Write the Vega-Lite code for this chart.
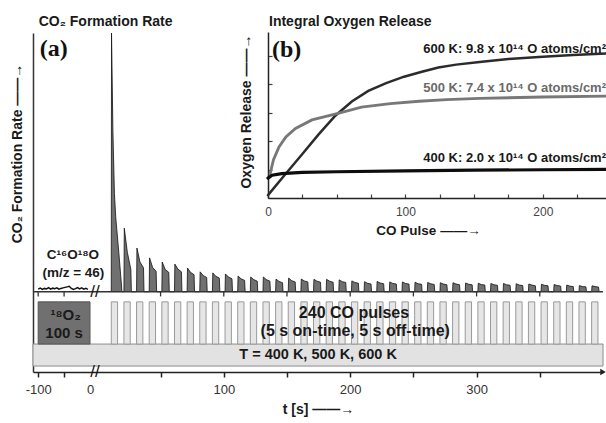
{
  "$schema": "https://vega.github.io/schema/vega-lite/v6.json",
  "width": 570,
  "height": 339,
  "autosize": {"type": "none"},
  "padding": {"left": 33, "top": 33, "right": 3, "bottom": 51},
  "background": "white",
  "config": {
    "font": "Liberation Sans",
    "view": {"stroke": null},
    "text": {"font": "Liberation Sans", "fontWeight": "bold", "color": "#1a1a1a"}
  },
  "datasets": {
    "co2": [
      {"t":11,"r":0},{"t":11.2,"r":100},{"t":12.3,"r":62},{"t":13.5,"r":38},{"t":14.5,"r":29},{"t":17,"r":15},{"t":19,"r":3},{"t":19.4,"r":0},
      {"t":21,"r":0},{"t":21.3,"r":24.6},{"t":23.7,"r":15.3},{"t":26.5,"r":8.6},{"t":26.9,"r":0},
      {"t":31,"r":0},{"t":31.3,"r":16.9},{"t":33.7,"r":11.5},{"t":36.5,"r":9.3},{"t":36.9,"r":0},
      {"t":41,"r":0},{"t":41.3,"r":13.1},{"t":43.7,"r":9.4},{"t":46.5,"r":7.9},{"t":46.9,"r":0},
      {"t":51,"r":0},{"t":51.3,"r":11.5},{"t":53.7,"r":8.6},{"t":56.5,"r":7.5},{"t":56.9,"r":0},
      {"t":61,"r":0},{"t":61.3,"r":10.7},{"t":63.7,"r":8.8},{"t":66.5,"r":7.7},{"t":66.9,"r":0},
      {"t":71,"r":0},{"t":71.3,"r":9.2},{"t":73.7,"r":7.5},{"t":76.5,"r":6.6},{"t":76.9,"r":0},
      {"t":81,"r":0},{"t":81.3,"r":7.7},{"t":83.7,"r":6.3},{"t":86.5,"r":5.5},{"t":86.9,"r":0},
      {"t":91,"r":0},{"t":91.3,"r":7.3},{"t":93.7,"r":6.0},{"t":96.5,"r":5.3},{"t":96.9,"r":0},
      {"t":101,"r":0},{"t":101.3,"r":6.9},{"t":103.7,"r":5.7},{"t":106.5,"r":5.0},{"t":106.9,"r":0},
      {"t":111,"r":0},{"t":111.3,"r":6.1},{"t":113.7,"r":5.0},{"t":116.5,"r":4.4},{"t":116.9,"r":0},
      {"t":121,"r":0},{"t":121.3,"r":5.7},{"t":123.7,"r":4.7},{"t":126.5,"r":4.1},{"t":126.9,"r":0},
      {"t":131,"r":0},{"t":131.3,"r":5.7},{"t":133.7,"r":4.7},{"t":136.5,"r":4.1},{"t":136.9,"r":0},
      {"t":141,"r":0},{"t":141.3,"r":4.9},{"t":143.7,"r":4.0},{"t":146.5,"r":3.5},{"t":146.9,"r":0},
      {"t":151,"r":0},{"t":151.3,"r":5.3},{"t":153.7,"r":4.3},{"t":156.5,"r":3.8},{"t":156.9,"r":0},
      {"t":161,"r":0},{"t":161.3,"r":4.9},{"t":163.7,"r":4.2},{"t":166.5,"r":3.8},{"t":166.9,"r":0},
      {"t":171,"r":0},{"t":171.3,"r":4.8},{"t":173.7,"r":4.1},{"t":176.5,"r":3.7},{"t":176.9,"r":0},
      {"t":181,"r":0},{"t":181.3,"r":4.8},{"t":183.7,"r":4.1},{"t":186.5,"r":3.7},{"t":186.9,"r":0},
      {"t":191,"r":0},{"t":191.3,"r":4.6},{"t":193.7,"r":3.9},{"t":196.5,"r":3.6},{"t":196.9,"r":0},
      {"t":201,"r":0},{"t":201.3,"r":4.2},{"t":203.7,"r":3.6},{"t":206.5,"r":3.3},{"t":206.9,"r":0},
      {"t":211,"r":0},{"t":211.3,"r":3.9},{"t":213.7,"r":3.3},{"t":216.5,"r":3.0},{"t":216.9,"r":0},
      {"t":221,"r":0},{"t":221.3,"r":4.0},{"t":223.7,"r":3.4},{"t":226.5,"r":3.1},{"t":226.9,"r":0},
      {"t":231,"r":0},{"t":231.3,"r":3.8},{"t":233.7,"r":3.2},{"t":236.5,"r":3.0},{"t":236.9,"r":0},
      {"t":241,"r":0},{"t":241.3,"r":3.8},{"t":243.7,"r":3.2},{"t":246.5,"r":3.0},{"t":246.9,"r":0},
      {"t":251,"r":0},{"t":251.3,"r":3.7},{"t":253.7,"r":3.1},{"t":256.5,"r":2.9},{"t":256.9,"r":0},
      {"t":261,"r":0},{"t":261.3,"r":3.6},{"t":263.7,"r":3.1},{"t":266.5,"r":2.8},{"t":266.9,"r":0},
      {"t":271,"r":0},{"t":271.3,"r":3.5},{"t":273.7,"r":3.0},{"t":276.5,"r":2.7},{"t":276.9,"r":0},
      {"t":281,"r":0},{"t":281.3,"r":3.5},{"t":283.7,"r":3.0},{"t":286.5,"r":2.7},{"t":286.9,"r":0},
      {"t":291,"r":0},{"t":291.3,"r":3.4},{"t":293.7,"r":2.9},{"t":296.5,"r":2.7},{"t":296.9,"r":0},
      {"t":301,"r":0},{"t":301.3,"r":3.3},{"t":303.7,"r":2.8},{"t":306.5,"r":2.6},{"t":306.9,"r":0},
      {"t":311,"r":0},{"t":311.3,"r":3.2},{"t":313.7,"r":2.7},{"t":316.5,"r":2.5},{"t":316.9,"r":0},
      {"t":321,"r":0},{"t":321.3,"r":3.2},{"t":323.7,"r":2.7},{"t":326.5,"r":2.5},{"t":326.9,"r":0},
      {"t":331,"r":0},{"t":331.3,"r":3.1},{"t":333.7,"r":2.6},{"t":336.5,"r":2.4},{"t":336.9,"r":0},
      {"t":341,"r":0},{"t":341.3,"r":3.0},{"t":343.7,"r":2.6},{"t":346.5,"r":2.3},{"t":346.9,"r":0},
      {"t":351,"r":0},{"t":351.3,"r":2.9},{"t":353.7,"r":2.5},{"t":356.5,"r":2.3},{"t":356.9,"r":0},
      {"t":361,"r":0},{"t":361.3,"r":2.8},{"t":363.7,"r":2.4},{"t":366.5,"r":2.2},{"t":366.9,"r":0},
      {"t":371,"r":0},{"t":371.3,"r":2.6},{"t":373.7,"r":2.2},{"t":376.5,"r":2.0},{"t":376.9,"r":0},
      {"t":381,"r":0},{"t":381.3,"r":2.4},{"t":383.7,"r":2.0},{"t":386.5,"r":1.9},{"t":386.9,"r":0},
      {"t":391,"r":0},{"t":391.3,"r":2.3},{"t":393.7,"r":2.0},{"t":396.5,"r":1.8},{"t":396.9,"r":0}
    ],
    "trace": [
      {"t":-100,"r":1.0},{"t":-96,"r":1.4},{"t":-92,"r":0.9},{"t":-88,"r":1.3},{"t":-84,"r":1.1},
      {"t":-80,"r":1.6},{"t":-76,"r":1.0},{"t":-72,"r":1.4},{"t":-68,"r":1.2},{"t":-64,"r":1.5},
      {"t":-60,"r":1.0},{"t":-56,"r":1.3},{"t":-52,"r":1.5},{"t":-44,"r":1.9},{"t":-40,"r":2.1},
      {"t":-36,"r":1.3},{"t":-32,"r":0.9},{"t":-28,"r":1.2},{"t":-24,"r":1.6},{"t":-20,"r":1.1},
      {"t":-16,"r":1.5},{"t":-12,"r":1.0},{"t":-8,"r":1.3},{"t":-4,"r":0.9}
    ],
    "pulses": [
      {"on":11,"off":16},{"on":21,"off":26},{"on":31,"off":36},{"on":41,"off":46},{"on":51,"off":56},
      {"on":61,"off":66},{"on":71,"off":76},{"on":81,"off":86},{"on":91,"off":96},{"on":101,"off":106},
      {"on":111,"off":116},{"on":121,"off":126},{"on":131,"off":136},{"on":141,"off":146},{"on":151,"off":156},
      {"on":161,"off":166},{"on":171,"off":176},{"on":181,"off":186},{"on":191,"off":196},{"on":201,"off":206},
      {"on":211,"off":216},{"on":221,"off":226},{"on":231,"off":236},{"on":241,"off":246},{"on":251,"off":256},
      {"on":261,"off":266},{"on":271,"off":276},{"on":281,"off":286},{"on":291,"off":296},{"on":301,"off":306},
      {"on":311,"off":316},{"on":321,"off":326},{"on":331,"off":336},{"on":341,"off":346},{"on":351,"off":356},
      {"on":361,"off":366},{"on":371,"off":376},{"on":381,"off":386},{"on":391,"off":396}
    ],
    "ticks": [
      {"t":-100},{"t":-50},{"t":50},{"t":100},{"t":150},{"t":200},{"t":250},{"t":300},{"t":350}
    ],
    "oxy": [
      {"T":"600 K","p":0,"v":0.2},{"T":"600 K","p":12,"v":1.6},{"T":"600 K","p":25,"v":3.1},{"T":"600 K","p":37,"v":4.5},
      {"T":"600 K","p":49,"v":5.8},{"T":"600 K","p":61,"v":6.8},{"T":"600 K","p":73,"v":7.55},{"T":"600 K","p":86,"v":8.1},
      {"T":"600 K","p":99,"v":8.55},{"T":"600 K","p":112,"v":8.9},{"T":"600 K","p":124,"v":9.2},{"T":"600 K","p":137,"v":9.4},
      {"T":"600 K","p":154,"v":9.58},{"T":"600 K","p":175,"v":9.8},{"T":"600 K","p":200,"v":9.96},{"T":"600 K","p":222,"v":10.08},
      {"T":"600 K","p":246,"v":10.18},
      {"T":"500 K","p":1.5,"v":1.7},{"T":"500 K","p":4,"v":2.7},{"T":"500 K","p":8,"v":3.6},{"T":"500 K","p":13,"v":4.3},
      {"T":"500 K","p":20,"v":4.9},{"T":"500 K","p":32,"v":5.5},{"T":"500 K","p":51,"v":5.96},{"T":"500 K","p":68,"v":6.4},
      {"T":"500 K","p":89,"v":6.65},{"T":"500 K","p":110,"v":6.82},{"T":"500 K","p":130,"v":6.93},{"T":"500 K","p":154,"v":7.02},
      {"T":"500 K","p":200,"v":7.12},{"T":"500 K","p":246,"v":7.18},
      {"T":"400 K","p":0,"v":1.4},{"T":"400 K","p":3,"v":1.6},{"T":"400 K","p":10,"v":1.72},{"T":"400 K","p":25,"v":1.8},
      {"T":"400 K","p":50,"v":1.85},{"T":"400 K","p":100,"v":1.91},{"T":"400 K","p":150,"v":1.96},{"T":"400 K","p":200,"v":1.99},
      {"T":"400 K","p":246,"v":2.02}
    ]
  },
  "layer": [
    {
      "layer": [
        {
          "data": {"values": [{}]},
          "mark": {"type": "rect", "fill": "#e2e2e2", "stroke": "#8c8c8c", "strokeWidth": 1},
          "encoding": {
            "x": {"datum": -110, "type": "quantitative"},
            "x2": {"datum": 400},
            "y": {"datum": -20.2, "type": "quantitative"},
            "y2": {"datum": -28.7}
          }
        },
        {
          "data": {"name": "pulses"},
          "mark": {"type": "rect", "fill": "#e6e6e6", "stroke": "#9a9a9a", "strokeWidth": 1},
          "encoding": {
            "x": {"field": "on", "type": "quantitative"},
            "x2": {"field": "off"},
            "y": {"datum": -3.9, "type": "quantitative"},
            "y2": {"datum": -20.2}
          }
        },
        {
          "data": {"values": [{}]},
          "mark": {"type": "rect", "fill": "#707070", "stroke": "#555555", "strokeWidth": 1},
          "encoding": {
            "x": {"datum": -100, "type": "quantitative"},
            "x2": {"datum": 0},
            "y": {"datum": -3.9, "type": "quantitative"},
            "y2": {"datum": -20.2}
          }
        },
        {
          "data": {"name": "co2"},
          "mark": {"type": "area", "color": "#333333", "line": {"color": "#111111", "strokeWidth": 0.8}},
          "encoding": {
            "x": {
              "field": "t", "type": "quantitative",
              "scale": {"domain": [-110, 0, 0.5, 400], "range": [0, 57, 65, 570], "nice": false, "zero": false},
              "axis": {
                "values": [-100, -50, 0, 50, 100, 150, 200, 250, 300, 350],
                "labelExpr": "datum.value == -100 ? '-100' : (datum.value % 100 == 0 ? datum.label : '')",
                "title": "t [s]  ——→",
                "titleFontSize": 14, "titleFontWeight": "bold", "titleColor": "#1a1a1a", "titlePadding": 6,
                "labelFontSize": 13, "labelPadding": 6, "labelColor": "#333333", "labelFlush": false, "labelOverlap": false,
                "tickSize": 5, "tickColor": "#222222", "tickWidth": 1.5,
                "tickOpacity": {"condition": {"test": "datum.value == 0", "value": 0}, "value": 1},
                "domainColor": "#222222", "domainWidth": 1.5, "grid": false
              }
            },
            "y": {
              "field": "r", "type": "quantitative",
              "scale": {"domain": [-31, 100], "nice": false, "zero": false},
              "axis": {
                "title": "CO₂ Formation Rate  ——→",
                "labels": false, "ticks": false, "grid": false,
                "domainColor": "#333333", "domainWidth": 1.5,
                "titleFontSize": 14, "titleFontWeight": "bold", "titleColor": "#1a1a1a", "titlePadding": 9, "titleY": 120
              }
            }
          }
        },
        {
          "data": {"name": "trace"},
          "mark": {"type": "line", "color": "#111111", "strokeWidth": 1.5},
          "encoding": {
            "x": {"field": "t", "type": "quantitative"},
            "y": {"field": "r", "type": "quantitative"}
          }
        },
        {
          "data": {"values": [{}]},
          "mark": {"type": "rule", "color": "#333333", "strokeWidth": 1.5},
          "encoding": {
            "x": {"datum": -110, "type": "quantitative"},
            "x2": {"datum": 400},
            "y": {"datum": 0, "type": "quantitative"}
          }
        },
        {
          "data": {"name": "ticks"},
          "mark": {"type": "rule", "color": "#333333", "strokeWidth": 1.3},
          "encoding": {
            "x": {"field": "t", "type": "quantitative"},
            "y": {"datum": 0, "type": "quantitative"},
            "y2": {"datum": -1.8}
          }
        },
        {
          "data": {"values": [{}]},
          "mark": {"type": "text", "text": "CO₂ Formation Rate", "fontSize": 14, "align": "left", "baseline": "middle"},
          "encoding": {"x": {"datum": -99, "type": "quantitative"}, "y": {"datum": 104.3, "type": "quantitative"}}
        },
        {
          "data": {"values": [{}]},
          "mark": {"type": "text", "text": "(a)", "font": "Liberation Serif", "fontSize": 24, "align": "left", "baseline": "middle", "color": "#111111"},
          "encoding": {"x": {"datum": -97, "type": "quantitative"}, "y": {"datum": 93.8, "type": "quantitative"}}
        },
        {
          "data": {"values": [{}]},
          "mark": {"type": "text", "text": "C¹⁶O¹⁸O", "fontSize": 13.5, "align": "center", "baseline": "middle"},
          "encoding": {"x": {"datum": -33, "type": "quantitative"}, "y": {"datum": 14.2, "type": "quantitative"}}
        },
        {
          "data": {"values": [{}]},
          "mark": {"type": "text", "text": "(m/z = 46)", "fontSize": 13.5, "align": "center", "baseline": "middle"},
          "encoding": {"x": {"datum": -32, "type": "quantitative"}, "y": {"datum": 7.3, "type": "quantitative"}}
        },
        {
          "data": {"values": [{}]},
          "mark": {"type": "text", "text": "¹⁸O₂", "fontSize": 15, "align": "center", "baseline": "middle", "color": "#1a1a1a"},
          "encoding": {"x": {"datum": -47, "type": "quantitative"}, "y": {"datum": -9.0, "type": "quantitative"}}
        },
        {
          "data": {"values": [{}]},
          "mark": {"type": "text", "text": "100 s", "fontSize": 15, "align": "center", "baseline": "middle", "color": "#1a1a1a"},
          "encoding": {"x": {"datum": -50, "type": "quantitative"}, "y": {"datum": -16.1, "type": "quantitative"}}
        },
        {
          "data": {"values": [{}]},
          "mark": {"type": "text", "text": "240 CO pulses", "fontSize": 16, "align": "center", "baseline": "middle"},
          "encoding": {"x": {"datum": 203, "type": "quantitative"}, "y": {"datum": -8.2, "type": "quantitative"}}
        },
        {
          "data": {"values": [{}]},
          "mark": {"type": "text", "text": "(5 s on-time, 5 s off-time)", "fontSize": 16, "align": "center", "baseline": "middle"},
          "encoding": {"x": {"datum": 204, "type": "quantitative"}, "y": {"datum": -15.1, "type": "quantitative"}}
        },
        {
          "data": {"values": [{}]},
          "mark": {"type": "text", "text": "T = 400 K, 500 K, 600 K", "fontSize": 14.5, "align": "center", "baseline": "middle"},
          "encoding": {"x": {"datum": 174.6, "type": "quantitative"}, "y": {"datum": -24.4, "type": "quantitative"}}
        },
        {
          "data": {"values": [{}]},
          "mark": {"type": "text", "text": "//", "fontSize": 17, "fontWeight": "normal", "align": "center", "baseline": "middle", "dx": 5, "color": "#111111"},
          "encoding": {"x": {"datum": 0, "type": "quantitative"}, "y": {"datum": 0, "type": "quantitative"}}
        },
        {
          "data": {"values": [{}]},
          "mark": {"type": "text", "text": "//", "fontSize": 17, "fontWeight": "normal", "align": "center", "baseline": "middle", "dx": 5, "color": "#111111"},
          "encoding": {"x": {"datum": 0, "type": "quantitative"}, "y": {"datum": -31, "type": "quantitative"}}
        },
        {
          "data": {"values": [{}]},
          "mark": {"type": "point", "shape": "triangle-right", "filled": true, "size": 40, "color": "#222222", "opacity": 1},
          "encoding": {"x": {"datum": 400, "type": "quantitative"}, "y": {"datum": -31, "type": "quantitative"}}
        }
      ]
    },
    {
      "layer": [
        {
          "data": {"name": "oxy"},
          "mark": {"type": "line", "strokeCap": "round"},
          "encoding": {
            "x": {
              "field": "p", "type": "quantitative",
              "scale": {"domain": [0, 246], "range": [235, 573], "nice": false, "zero": false},
              "axis": {
                "orient": "bottom", "offset": -174,
                "values": [0, 25, 50, 75, 100, 125, 150, 175, 200, 225],
                "labelExpr": "datum.value % 100 == 0 ? datum.label : ''",
                "tickSize": -4, "tickColor": "#444444", "tickWidth": 1.2,
                "labelPadding": 12, "labelFontSize": 12, "labelColor": "#444444", "labelFlush": false, "labelOverlap": false,
                "domainColor": "#222222", "domainWidth": 1.5, "grid": false,
                "title": "CO Pulse  ——→", "titleFontSize": 13.5, "titleFontWeight": "bold", "titleColor": "#1a1a1a",
                "titlePadding": 6, "titleX": 395
              }
            },
            "y": {
              "field": "v", "type": "quantitative",
              "scale": {"domain": [0, 11.7], "range": [165, -1], "nice": false, "zero": false},
              "axis": {
                "orient": "left", "offset": -235,
                "values": [2, 4, 6, 8, 10],
                "labels": false,
                "tickSize": -4, "tickColor": "#444444", "tickWidth": 1.2,
                "domainColor": "#222222", "domainWidth": 1.5, "grid": false,
                "title": "Oxygen Release  ——→", "titleFontSize": 14, "titleFontWeight": "bold", "titleColor": "#1a1a1a",
                "titlePadding": 14, "titleY": 78
              }
            },
            "color": {
              "field": "T", "type": "nominal",
              "scale": {"domain": ["400 K", "500 K", "600 K"], "range": ["#0d0d0d", "#787878", "#2b2b2b"]},
              "legend": null
            },
            "strokeWidth": {
              "field": "T", "type": "nominal",
              "scale": {"domain": ["400 K", "500 K", "600 K"], "range": [3.2, 2.5, 2.5]},
              "legend": null
            }
          }
        },
        {
          "data": {"values": [{}]},
          "mark": {"type": "text", "text": "Integral Oxygen Release", "fontSize": 14, "align": "left", "baseline": "middle", "dx": 1},
          "encoding": {"x": {"datum": 0, "type": "quantitative"}, "y": {"datum": 12.39, "type": "quantitative"}}
        },
        {
          "data": {"values": [{}]},
          "mark": {"type": "text", "text": "(b)", "font": "Liberation Serif", "fontSize": 24, "align": "left", "baseline": "middle", "color": "#111111"},
          "encoding": {"x": {"datum": 2.9, "type": "quantitative"}, "y": {"datum": 10.42, "type": "quantitative"}}
        },
        {
          "data": {"values": [{}]},
          "mark": {"type": "text", "text": "600 K: 9.8 x 10¹⁴ O atoms/cm²", "fontSize": 13, "align": "right", "baseline": "middle", "color": "#1a1a1a"},
          "encoding": {"x": {"datum": 246, "type": "quantitative"}, "y": {"datum": 10.53, "type": "quantitative"}}
        },
        {
          "data": {"values": [{}]},
          "mark": {"type": "text", "text": "500 K: 7.4 x 10¹⁴ O atoms/cm²", "fontSize": 13, "align": "right", "baseline": "middle", "color": "#6a6a6a"},
          "encoding": {"x": {"datum": 246, "type": "quantitative"}, "y": {"datum": 7.77, "type": "quantitative"}}
        },
        {
          "data": {"values": [{}]},
          "mark": {"type": "text", "text": "400 K: 2.0 x 10¹⁴ O atoms/cm²", "fontSize": 13, "align": "right", "baseline": "middle", "color": "#1a1a1a"},
          "encoding": {"x": {"datum": 246, "type": "quantitative"}, "y": {"datum": 2.82, "type": "quantitative"}}
        }
      ]
    }
  ],
  "resolve": {
    "scale": {"x": "independent", "y": "independent"},
    "axis": {"x": "independent", "y": "independent"}
  }
}
